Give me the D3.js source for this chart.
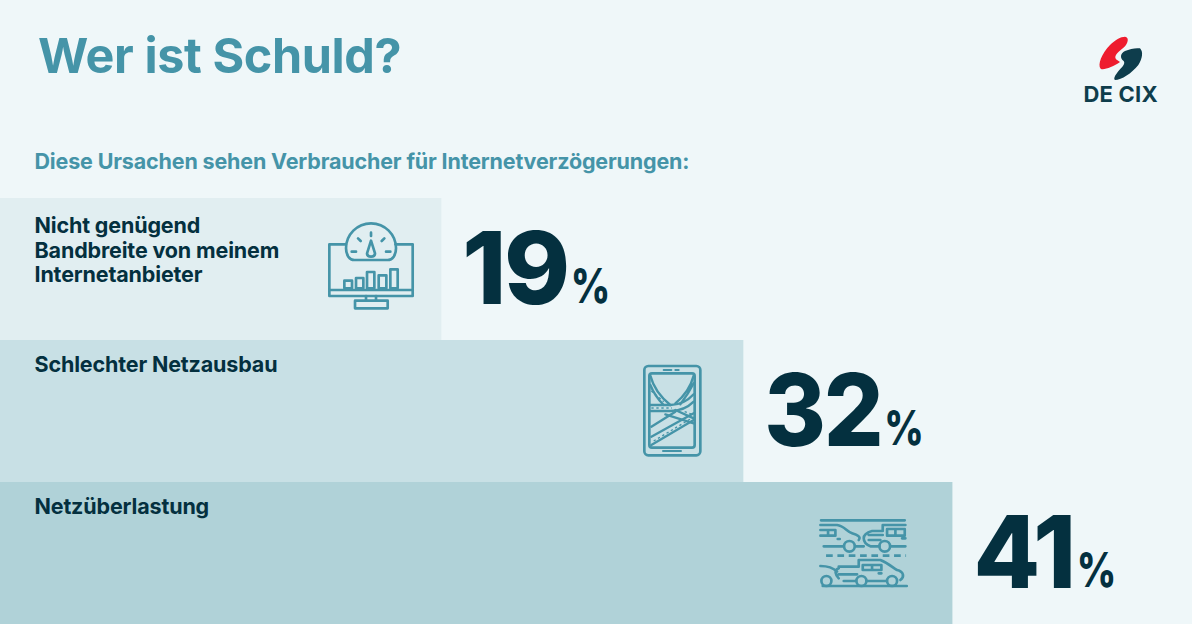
<!DOCTYPE html>
<html>
<head>
<meta charset="utf-8">
<script src="https://cdn.jsdelivr.net/npm/d3@7"></script>
<style>
  html, body { margin: 0; padding: 0; background: #eff7f9; }
  svg { display: block; }
  text { font-family: Inter, "Noto Sans", sans-serif; }
</style>
</head>
<body>
<div id="chart"></div>
<script>
const width = 1192
const height = 624

const categories = ["Nicht genügend|Bandbreite von meinem|Internetanbieter", "Schlechter Netzausbau", "Netzüberlastung"]
const values = [19, 32, 41]
const barColors = ["#e1eef1", "#c8e0e5", "#b0d2d8"]
const iconNames = ["gauge", "road", "cars"]
// the artwork's digits are a little narrower than Inter's, and not evenly so
const digitSqueeze = [1, 0.94, 0.97]

const teal = "#4594a8"
const dark = "#04303f"

const x = d3.scaleLinear().domain([0, 41]).range([0, 952.4])
const y = d3.scaleBand().domain(categories).range([198, 624]).padding(0)

const svg = d3.select("#chart")
  .append("svg")
  .attr("width", width)
  .attr("height", height)
  .attr("viewBox", [0, 0, width, height])

svg.append("rect").attr("width", width).attr("height", height).attr("fill", "#eff7f9")

svg.append("text")
  .attr("x", 38).attr("y", 73)
  .attr("font-size", 48.5).attr("font-weight", 700)
  .attr("letter-spacing", -0.4)
  .attr("fill", teal)
  .text("Wer ist Schuld?")

svg.append("text")
  .attr("x", 34.5).attr("y", 169)
  .attr("font-size", 21.5).attr("font-weight", 700)
  .attr("letter-spacing", -0.16)
  .attr("fill", teal)
  .text("Diese Ursachen sehen Verbraucher für Internetverzögerungen:")

const rows = svg.selectAll("g.row")
  .data(categories.map((c, i) => ({ label: c, value: values[i], color: barColors[i], icon: iconNames[i], squeeze: digitSqueeze[i] })))
  .join("g")
  .attr("class", "row")

rows.append("rect")
  .attr("x", 0)
  .attr("y", d => y(d.label))
  .attr("width", d => x(d.value))
  .attr("height", y.bandwidth())
  .attr("fill", d => d.color)

rows.each(function (d) {
  const t = d3.select(this).append("text")
    .attr("font-size", 21.5).attr("font-weight", 700)
    .attr("letter-spacing", -0.15)
    .attr("fill", dark)
  const lines = d.label.split("|")
  const top = lines.length > 1 ? 35 : 32
  lines.forEach((line, i) => {
    t.append("tspan").attr("x", 34.5).attr("y", y(d.label) + top + i * 24.5).text(line)
  })
})

// big number, then a percent sign squeezed a bit to match the artwork
rows.each(function (d) {
  const row = d3.select(this)
  const nx = x(d.value) + 21
  const ny = y(d.label) + 106
  const num = row.append("text")
    .attr("transform", `translate(${nx},${ny}) scale(${d.squeeze},1)`)
    .attr("fill", dark)
    .attr("font-size", 100).attr("font-weight", 800).attr("letter-spacing", -2.5)
    .text(d.value)
  row.append("text")
    .attr("transform", `translate(${nx + num.node().getComputedTextLength() * d.squeeze + 3},${ny - 1}) scale(0.8,1)`)
    .attr("fill", dark)
    .attr("font-size", 48).attr("font-weight", 800)
    .text("%")
})

// icons: paths are in units of a third of a pixel, offset from the bar's top right corner
const iconOffset = { gauge: [-132, 12], road: [-118, 15], cars: [-147, 23] }
const icon = rows.append("g")
  .attr("fill", "none")
  .attr("stroke", teal)
  .attr("stroke-width", 8)
  .attr("stroke-linecap", "round")
  .attr("stroke-linejoin", "round")
  .attr("transform", d => `translate(${x(d.value) + iconOffset[d.icon][0]},${y(d.label) + iconOffset[d.icon][1]}) scale(${1 / 3})`)

function drawGauge(g) {
  g.append("path").attr("d", "M110,103 H60 V258 H310 V103 H258 M60,240 H310")
  g.append("path").attr("d", "M110,115 A75,75 0 0 1 260,115 C260,135 250,150 235,150 H135 C120,150 110,135 110,115 Z")
  g.append("path").attr("d", "M185,68 V78 M127,125 H140 M230,125 H243 M146,85 L154,93 M225,85 L217,93")
  g.append("path").attr("d", "M185,92 L197,130 Q197,140 185,140 Q173,140 173,130 Z")
  g.selectAll("rect.b")
    .data([[105, 212, 23, 23], [140, 204, 22, 31], [173, 186, 22, 49], [208, 196, 23, 39], [243, 178, 22, 57]])
    .join("rect").attr("class", "b")
    .attr("x", d => d[0]).attr("y", d => d[1]).attr("width", d => d[2]).attr("height", d => d[3])
  g.append("path").attr("d", "M170,258 V272 M200,258 V272")
  g.append("rect").attr("x", 137).attr("y", 272).attr("width", 98).attr("height", 23)
}

function drawRoad(g) {
  g.append("rect").attr("x", 57).attr("y", 33).attr("width", 168).attr("height", 268).attr("rx", 12)
  g.append("rect").attr("x", 72).attr("y", 55).attr("width", 136).attr("height", 223).attr("rx", 8)
  g.append("path").attr("d", "M115,45 H138 M150,45 H160 M113,288 H167").attr("stroke-width", 6)
  const lines = g.append("g").attr("stroke-width", 7)
  lines.append("path").attr("d", "M75,62 C85,100 110,130 135,150 M75,90 C85,115 100,135 115,150")
  lines.append("path").attr("d", "M205,62 C195,100 175,125 150,145 M205,85 C190,115 175,135 165,148")
  lines.append("path").attr("d", "M75,150 H135 C160,150 185,140 205,118 M75,168 H135 C165,168 190,155 205,140")
  lines.append("path").attr("d", "M78,215 L150,170 M78,245 L205,175 M78,270 L205,195")
  lines.append("path").attr("d", "M120,178 L205,205 M150,165 L205,190")
  g.append("path").attr("d", "M78,159 H140 M85,258 L205,186 M78,108 L115,140 M178,170 L205,180")
    .attr("stroke-width", 4).attr("stroke-dasharray", "7 8").attr("stroke-linecap", "butt")
}

function drawCars(g) {
  g.append("path").attr("d", "M47,46 H298 M52,243 H304")
  g.append("path").attr("d", "M62,152 H302").attr("stroke-dasharray", "20 14").attr("stroke-linecap", "butt")
  // top left car
  g.append("path").attr("d", "M45,60 H95 C115,62 125,80 140,85 C155,90 168,95 160,105 M45,75 H90 V92 H45 M68,75 V92 M97,102 H103 M55,124 H115 M150,124 H175")
  // top right car
  g.append("path").attr("d", "M300,60 H232 V78 H200 C185,82 175,90 175,100 C175,112 185,120 195,124 H222 M255,124 H300 M245,72 H298 V92 H245 Z M270,72 V92 M190,90 H232 M190,105 H225 M290,100 H300")
  // bottom cars
  g.append("path").attr("d", "M45,183 C65,183 85,190 95,200 M100,185 H160 V165 H225 C250,175 265,190 275,195 C295,200 298,215 285,225 M172,180 H228 V195 H172 Z M200,180 V195 M100,208 H155 M184,228 H243 M115,228 H152 M100,190 C85,195 90,210 100,220 M220,205 H228")
  g.selectAll("circle.w")
    .data([[132, 124, 16], [238, 124, 16], [63, 228, 15], [168, 228, 15], [260, 228, 15]])
    .join("circle").attr("class", "w")
    .attr("cx", d => d[0]).attr("cy", d => d[1]).attr("r", d => d[2])
}

const draw = { gauge: drawGauge, road: drawRoad, cars: drawCars }
icon.each(function (d) { draw[d.icon](d3.select(this)) })

// logo
const logo = svg.append("g").attr("transform", `translate(1060,20) scale(${1 / 3})`)
logo.append("path")
  .attr("d", "M195,50 C208,52 205,68 192,82 C178,95 160,105 168,118 L180,126 C160,140 130,152 122,146 C112,135 125,100 150,75 C165,60 182,50 195,50 Z")
  .attr("fill", "#ee1c2e")
logo.append("path")
  .attr("d", "M240,85 C250,95 248,115 235,135 C215,160 185,180 165,180 C158,175 170,160 178,150 C190,138 197,128 190,122 C180,115 180,100 195,93 C210,86 228,83 240,85 Z")
  .attr("fill", "#0e3d4c")
svg.append("text")
  .attr("x", 1083.5).attr("y", 102)
  .attr("font-size", 22).attr("font-weight", 700).attr("letter-spacing", 0.2)
  .attr("fill", "#0e3d4c")
  .text("DE CIX")
</script>
</body>
</html>
